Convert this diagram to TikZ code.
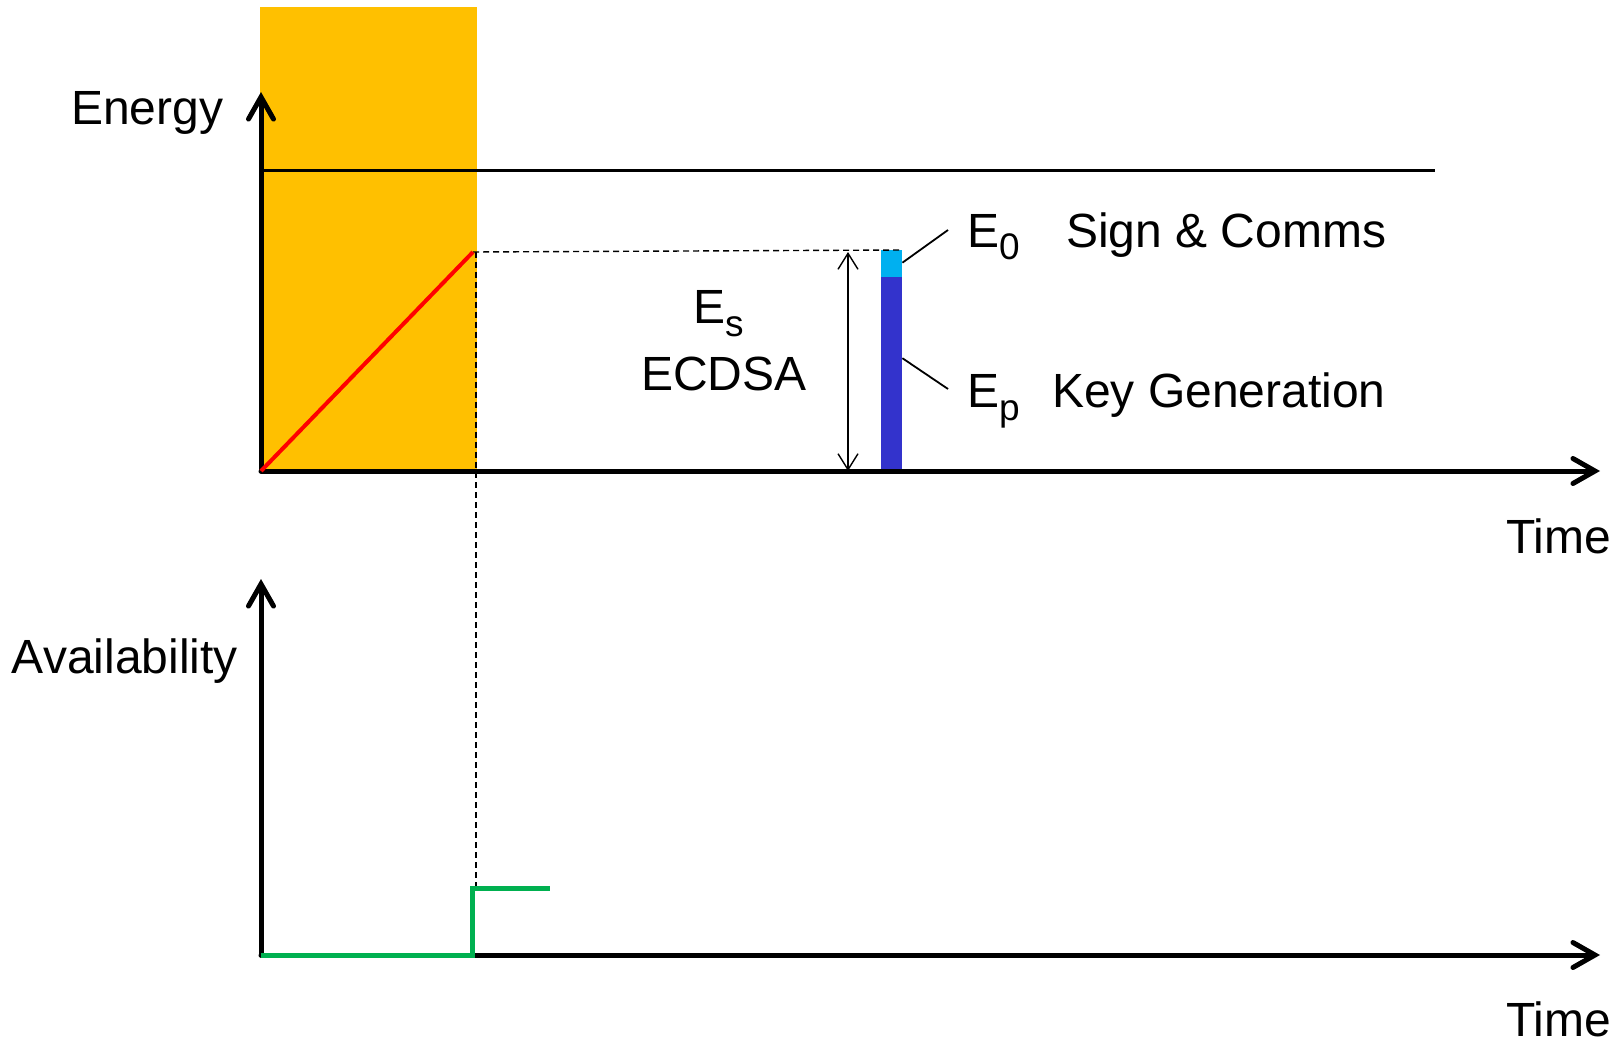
\documentclass[tikz,border=0pt]{standalone}
\usepackage{fontspec}
\setmainfont{Liberation Sans}
\usetikzlibrary{arrows.meta}

% sizes of the labels and their subscripts
\newcommand{\lblfont}{\fontsize{48}{48}\selectfont}
\newcommand{\axfont}{\fontsize{48}{48}\selectfont}
\newcommand{\subsc}[1]{{\fontsize{37}{37}\selectfont\raisebox{-13pt}{#1}}}

\definecolor{charge}{HTML}{FFC000}
\definecolor{signpart}{HTML}{00B0F0}
\definecolor{keypart}{HTML}{3333CC}
\definecolor{avail}{HTML}{00B050}

\tikzset{
  axis/.style={line width=5pt, line cap=round,
    -{Straight Barb[length=22pt,width=25pt,line cap=round]}},
  lbl/.style={anchor=base west, inner sep=0pt, outer sep=0pt},
  guide/.style={line width=1.4pt, dash pattern=on 6pt off 4pt},
  leader/.style={line width=1.8pt},
  span/.style={line width=1.4pt,
    {Straight Barb[length=16pt,width=20pt]}-{Straight Barb[length=16pt,width=20pt]}},
}

\begin{document}
\begin{tikzpicture}[x=1pt, y=-1pt]
  \useasboundingbox (0,0) rectangle (1616,1043);

  % charging interval
  \fill[charge] (260,7) rectangle (477,471);

  % key points
  \coordinate (o1) at (261,471);
  \coordinate (ytip1) at (261,92);
  \coordinate (xtip1) at (1600,471);
  \coordinate (o2) at (261,955);
  \coordinate (ytip2) at (261,579);
  \coordinate (xtip2) at (1600,955);
  \coordinate (capL) at (261,171);
  \coordinate (capR) at (1435,171);
  \coordinate (full) at (473,252);
  \coordinate (lvlR) at (902,250);
  \coordinate (dropTop) at (476,252);
  \coordinate (dropBot) at (476,887);
  \coordinate (spanTop) at (848,252);
  \coordinate (spanBot) at (848,471);
  \coordinate (stepA) at (472,955);
  \coordinate (stepB) at (472,888);
  \coordinate (stepC) at (550,888);

  % energy demand bar
  \node[fill=signpart, inner sep=0pt, minimum width=21pt, minimum height=27pt,
        anchor=north west] (bar0) at (881,250) {};
  \node[fill=keypart, inner sep=0pt, minimum width=21pt, minimum height=194pt,
        anchor=north west] (barp) at (881,277) {};

  % storage capacity
  \draw[line width=3pt] (capL) -- (capR);

  % guides
  \draw[guide] (full) -- (lvlR);
  \draw[guide] (dropTop) -- (dropBot);
  \draw[span] (spanTop) -- (spanBot);

  % axes
  \draw[axis] (o1) -- (ytip1);
  \draw[axis] (o1) -- (xtip1);
  \draw[axis] (o2) -- (ytip2);
  \draw[axis] (o2) -- (xtip2);

  % stored energy and availability
  \draw[red, line width=4pt] (o1) -- (full);
  \draw[avail, line width=5pt] (o2) -- (stepA) -- (stepB) -- (stepC);

  % labels
  \node[lbl] (energy) at (71,125) {\axfont Energy};
  \node[lbl] (time1) at (1506,553) {\axfont Time};
  \node[lbl, text depth=0pt] (time2) at (1506,1036) {\axfont Time};
  \node[lbl] (availability) at (12,673) {\lblfont Availability};
  \node[lbl] (es) at (693,323) {\lblfont E\subsc{s}};
  \node[lbl] (ecdsa) at (641,390) {\lblfont ECDSA};
  \node[lbl] (e0) at (967,247) {\lblfont E\subsc{0}};
  \node[lbl] (sign) at (1066,247) {\lblfont Sign \& Comms};
  \node[lbl] (ep) at (967,407) {\lblfont E\subsc{p}};
  \node[lbl] (keygen) at (1052,407) {\lblfont Key Generation};

  % leaders from the bar to its labels
  \coordinate (l0) at (948,230);
  \coordinate (lp) at (948,389);
  \draw[leader] (bar0.east) ++(0,-1) -- (l0);
  \draw[leader] (barp.east) ++(0,-16) -- (lp);
\end{tikzpicture}
\end{document}
